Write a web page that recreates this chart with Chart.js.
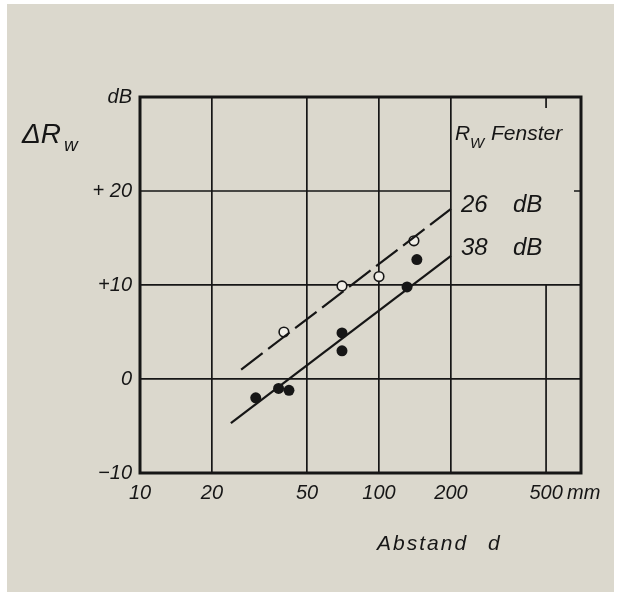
<!DOCTYPE html>
<html>
<head>
<meta charset="utf-8">
<script src="https://cdn.jsdelivr.net/npm/chart.js@4/dist/chart.umd.min.js"></script>
<style>
  body { margin: 0; background: #fff; }
  #paper { position: absolute; left: 7px; top: 4px; width: 607px; height: 588px; background: #dbd8cd; }
  #myChart { position: absolute; left: 0; top: 0; }
</style>
</head>
<body>
<div id="paper"></div>
<canvas id="myChart" width="617" height="592"></canvas>
<script>
// Abstand d in mm, Delta R_w in dB
const openD = [40, 70, 100, 140];
const openR = [5, 9.9, 10.9, 14.7];
const filledD = [30.5, 38, 42, 70, 70, 131, 144];
const filledR = [-2, -1, -1.2, 4.9, 3, 9.8, 12.7];
const line26D = [26.5, 200];
const line26R = [1.0, 18.1];
const line38D = [24, 200];
const line38R = [-4.7, 13.1];
const xTicks = [10, 20, 50, 100, 200, 500];
const yTicks = [-10, 0, 10, 20, 30];
const yTickLabels = ["\u221210", "0", "+10", "+ 20", "dB"];

const ink = "#161616";
const fontFam = "'Liberation Sans', Arial, sans-serif";

function toPoints(xs, ys) {
  return xs.map((x, i) => ({ x: x, y: ys[i] }));
}

const extras = {
  id: "extras",
  beforeDatasetsDraw(chart) {
    const c = chart.ctx, x = chart.scales.x, y = chart.scales.y, a = chart.chartArea;
    c.save();
    c.strokeStyle = ink;
    c.lineWidth = 1.7;
    c.beginPath();
    // +20 line only up to 200 mm
    c.moveTo(a.left, y.getPixelForValue(20));
    c.lineTo(x.getPixelForValue(200), y.getPixelForValue(20));
    // small tick at +20 on right border
    c.moveTo(a.right, y.getPixelForValue(20));
    c.lineTo(a.right - 7, y.getPixelForValue(20));
    // 500 mm line from +10 down
    c.moveTo(x.getPixelForValue(500), y.getPixelForValue(10));
    c.lineTo(x.getPixelForValue(500), a.bottom);
    // tick at 500 on top border
    c.moveTo(x.getPixelForValue(500), a.top);
    c.lineTo(x.getPixelForValue(500), a.top + 11);
    c.stroke();
    c.restore();
  },
  afterDraw(chart) {
    const c = chart.ctx, x = chart.scales.x, a = chart.chartArea;
    c.save();
    c.strokeStyle = ink;
    c.lineWidth = 3;
    c.strokeRect(a.left, a.top, a.right - a.left, a.bottom - a.top);

    c.fillStyle = ink;
    c.textBaseline = "alphabetic";
    c.textAlign = "left";
    // axis title
    c.font = "italic 28px " + fontFam;
    c.fillText("\u0394R", 22, 143);
    c.font = "italic 19px " + fontFam;
    c.fillText("w", 64, 151);
    // legend header
    c.font = "italic 21px " + fontFam;
    c.fillText("R", 455, 140);
    c.font = "italic 15px " + fontFam;
    c.fillText("W", 470, 148);
    c.font = "italic 21px " + fontFam;
    c.fillText("Fenster", 491, 140);
    // line labels
    c.font = "italic 24px " + fontFam;
    c.fillText("26", 461, 212);
    c.fillText("dB", 513, 212);
    c.fillText("38", 461, 255);
    c.fillText("dB", 513, 255);
    // mm unit
    c.font = "italic 20px " + fontFam;
    c.fillText("mm", x.getPixelForValue(500) + 21, 499);
    // x title
    c.font = "italic 21px " + fontFam;
    c.letterSpacing = "2px";
    c.fillText("Abstand", 377, 550);
    c.fillText("d", 488, 550);
    c.restore();
  },
};

let ctx = document.getElementById("myChart").getContext("2d");
let myChart = new Chart(ctx, {
  type: "scatter",
  data: {
    datasets: [
      {
        type: "line",
        data: toPoints(line26D, line26R),
        borderColor: ink,
        borderWidth: 2.2,
        borderDash: [27, 7],
        pointRadius: 0,
      },
      {
        type: "line",
        data: toPoints(line38D, line38R),
        borderColor: ink,
        borderWidth: 2.2,
        pointRadius: 0,
      },
      {
        data: toPoints(openD, openR),
        pointRadius: 4.8,
        backgroundColor: "#f1efe8",
        borderColor: ink,
        borderWidth: 1.6,
      },
      {
        data: toPoints(filledD, filledR),
        pointRadius: 5.5,
        backgroundColor: ink,
        borderColor: ink,
        borderWidth: 0,
      },
    ],
  },
  options: {
    responsive: false,
    animation: false,
    devicePixelRatio: 1,
    layout: { padding: { left: 0, right: 36, top: 97, bottom: 0 } },
    plugins: { legend: { display: false }, tooltip: { enabled: false } },
    scales: {
      x: {
        type: "logarithmic",
        min: 10,
        max: 700,
        afterBuildTicks: (scale) => {
          scale.ticks = xTicks.map((v) => ({ value: v }));
        },
        afterFit: (scale) => {
          scale.height = 119;
        },
        border: { display: false },
        grid: {
          drawTicks: false,
          lineWidth: 1.7,
          color: (c) => (c.tick && (c.tick.value == 500 || c.tick.value == 10) ? "rgba(0,0,0,0)" : ink),
        },
        ticks: {
          color: ink,
          padding: 8,
          maxRotation: 0,
          autoSkip: false,
          font: { family: fontFam, size: 20, style: "italic" },
          callback: (v) => String(v),
        },
      },
      y: {
        min: -10,
        max: 30,
        afterBuildTicks: (scale) => {
          scale.ticks = yTicks.map((v) => ({ value: v }));
        },
        afterFit: (scale) => {
          scale.width = 140;
        },
        border: { display: false },
        grid: {
          drawTicks: false,
          lineWidth: 1.7,
          color: (c) => (c.tick && (c.tick.value == 20 || c.tick.value == 30 || c.tick.value == -10) ? "rgba(0,0,0,0)" : ink),
        },
        ticks: {
          color: ink,
          padding: 8,
          font: { family: fontFam, size: 20, style: "italic" },
          callback: (v) => yTickLabels[yTicks.indexOf(v)],
        },
      },
    },
  },
  plugins: [extras],
});
</script>
</body>
</html>
